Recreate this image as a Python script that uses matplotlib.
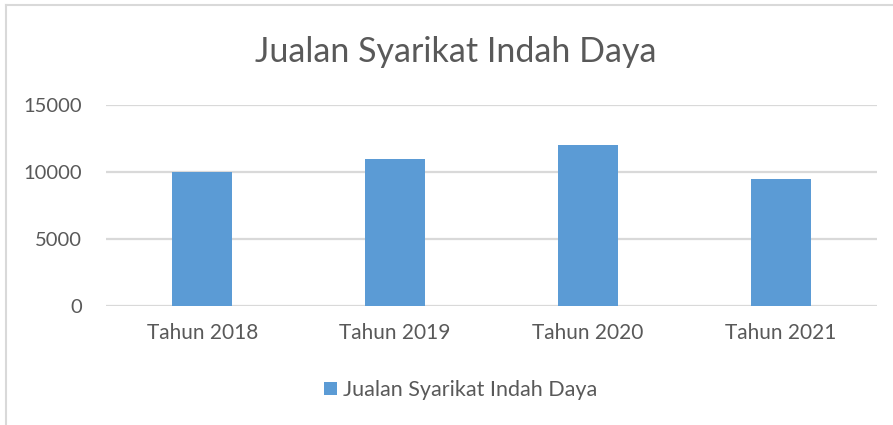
import matplotlib
matplotlib.use("Agg")
from matplotlib import pyplot as plt
from matplotlib.lines import Line2D

categories = ["Tahun 2018", "Tahun 2019", "Tahun 2020", "Tahun 2021"]
sales = [10000, 11000, 12000, 9500]
series_name = "Jualan Syarikat Indah Daya"

plt.rcParams['font.family'] = ['Lato', 'DejaVu Sans']
text_col = "#595959"
grid_col = "#d9d9d9"
bar_col = "#5b9bd5"

fig = plt.figure(figsize=(8.93, 4.25), dpi=100)
ax = fig.add_axes([106 / 893, 1 - 306 / 425, (877 - 106) / 893, (306 - 105) / 425])

x = list(range(len(categories)))
bars = ax.bar(x, sales, width=0.31, color=bar_col, zorder=3)

ax.set_xlim(-0.5, len(categories) - 0.5)
ax.set_ylim(0, 15000)
ax.set_yticks([0, 5000, 10000, 15000])
ax.set_xticks(x)
ax.set_xticklabels(categories)
ax.yaxis.grid(True, color=grid_col, linewidth=1.6, zorder=0)
ax.set_axisbelow(True)
for s in ax.spines.values():
    s.set_visible(False)
ax.tick_params(axis='y', length=0, pad=17, labelsize=14.5, labelcolor=text_col)
ax.tick_params(axis='x', length=0, pad=12, labelsize=15, labelcolor=text_col)

fig.text(456 / 893, 1 - 52 / 425, "Jualan Syarikat Indah Daya", ha='center', va='center',
         fontsize=24.5, color=text_col)

fig.legend(handles=[bars], labels=[series_name], loc='center',
           bbox_to_anchor=(461 / 893, 1 - 390 / 425), frameon=False,
           fontsize=15.5, labelcolor=text_col, handlelength=0.6, handleheight=0.6,
           handletextpad=0.28)

# chart area border (left and top edges visible)
fig.add_artist(Line2D([6 / 893, 6 / 893], [0, 1 - 5 / 425], color=grid_col, linewidth=1.5))
fig.add_artist(Line2D([6 / 893, 1], [1 - 5 / 425, 1 - 5 / 425], color=grid_col, linewidth=1.5))

fig.savefig("out.png", dpi=100)
